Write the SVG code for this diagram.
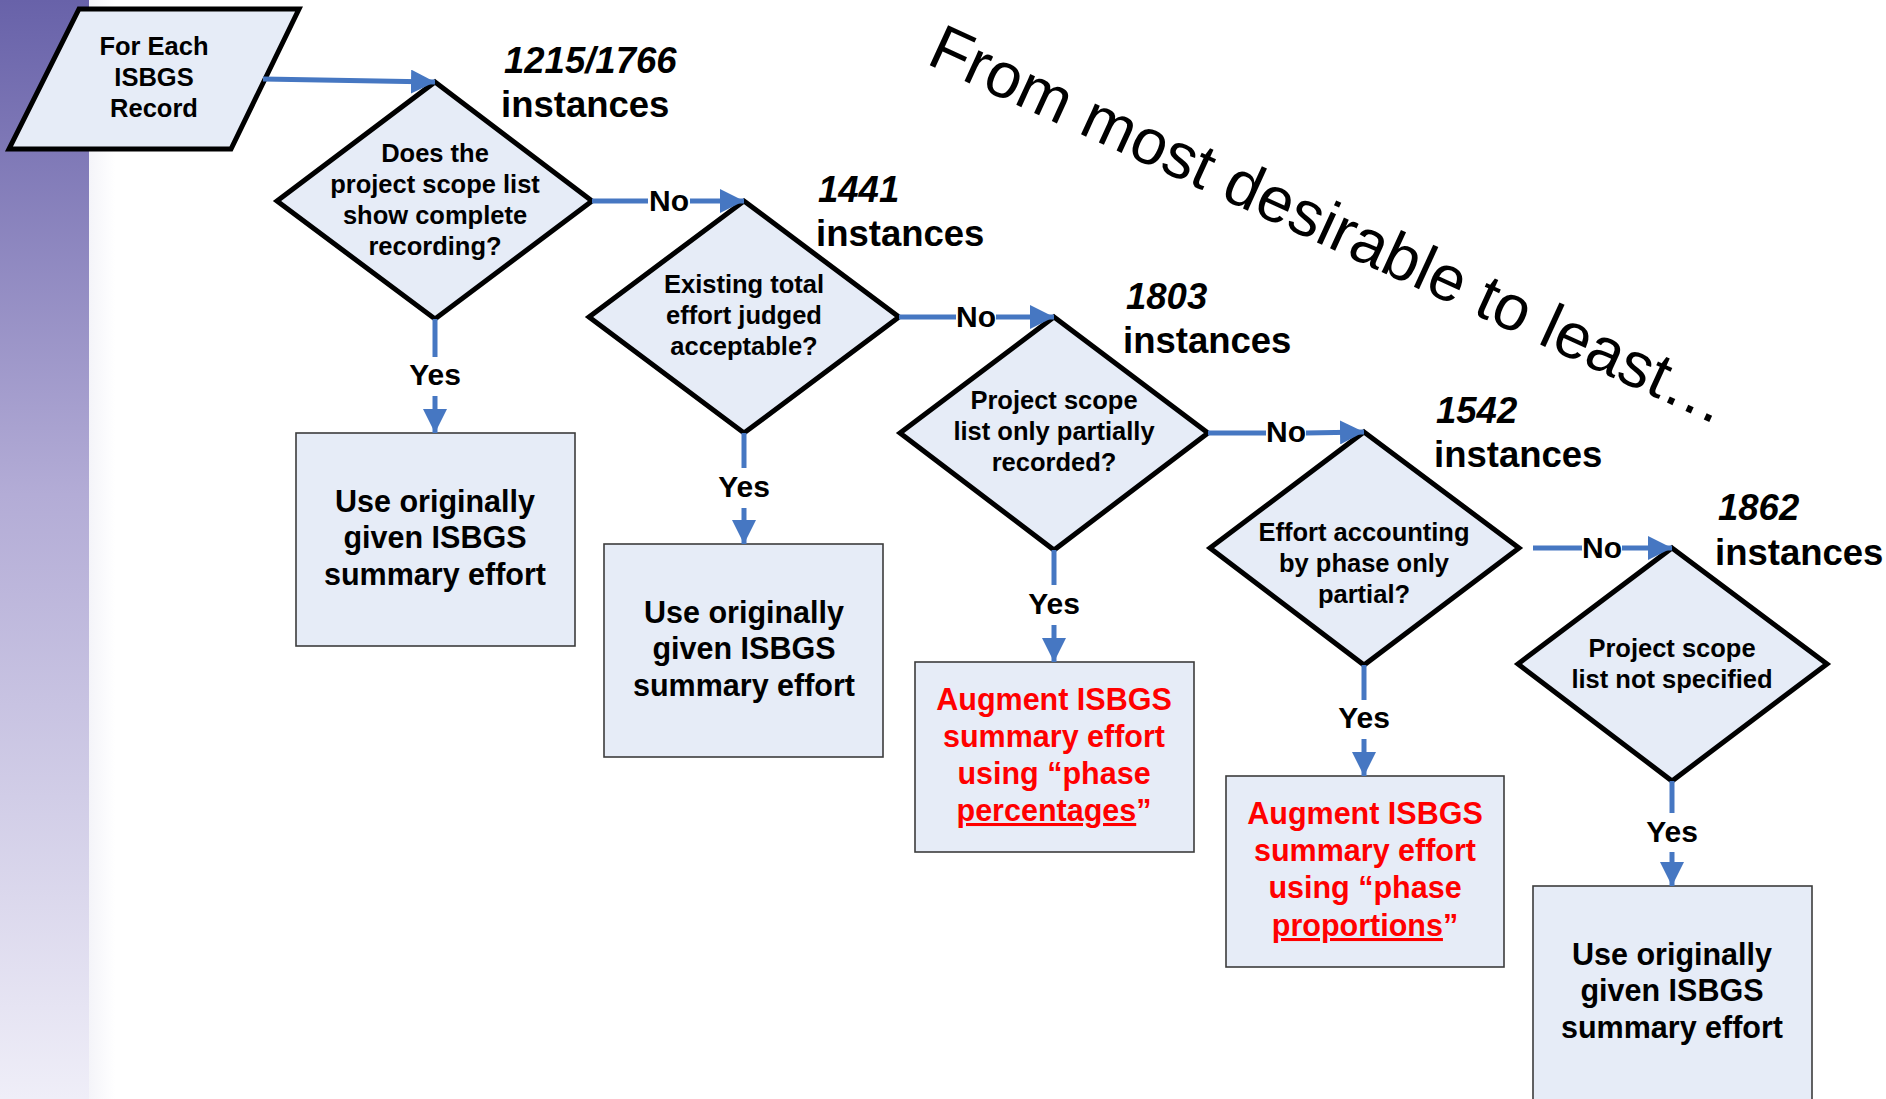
<svg xmlns="http://www.w3.org/2000/svg" width="1886" height="1099" viewBox="0 0 1886 1099">
<defs>
<linearGradient id="bar" x1="0" y1="0" x2="0" y2="1">
<stop offset="0" stop-color="#6862a9"/>
<stop offset="0.45" stop-color="#b3acd6"/>
<stop offset="1" stop-color="#efeef8"/>
</linearGradient>
<linearGradient id="band" x1="0" y1="0" x2="1" y2="0">
<stop offset="0" stop-color="#f4f4f9"/>
<stop offset="1" stop-color="#ffffff"/>
</linearGradient>
<marker id="ah" markerUnits="userSpaceOnUse" markerWidth="24" markerHeight="24" refX="24" refY="12" orient="auto" viewBox="0 0 24 24">
<path d="M0,0 L24,12 L0,24 Z" fill="#4677c2"/>
</marker>
<style>
.sh{fill:#e6ecf7;stroke:#000;stroke-width:5;stroke-linejoin:miter}
.bx{fill:#e6ecf7;stroke:#3c3c3c;stroke-width:1.6}
.t{font-family:"Liberation Sans",Arial,sans-serif;font-weight:bold;text-anchor:middle;fill:#000}
.q{font-size:25.5px}
.b{font-size:30.5px}
.r{fill:#ff0000}
.lb{font-size:30px}
.n{font-family:"Liberation Sans",Arial,sans-serif;font-weight:bold;font-size:36.5px;fill:#000}
.ni{font-style:italic}
.c{stroke:#4677c2;stroke-width:5;fill:none}
.u{text-decoration:underline}
</style>
</defs>
<rect width="1886" height="1099" fill="#ffffff"/>
<rect x="0" y="0" width="89" height="1099" fill="url(#bar)"/>
<rect x="89" y="0" width="26" height="1099" fill="url(#band)"/>

<text x="925" y="63" transform="rotate(24.6 925 63)" font-family="'Liberation Sans',Arial,sans-serif" font-size="64" fill="#000">From most desirable to least…</text>

<g id="start">
<polygon class="sh" points="79,9 299,9 231,149 9,149"/>
<text class="t q" x="154" y="55">For Each</text>
<text class="t q" x="154" y="86">ISBGS</text>
<text class="t q" x="154" y="117">Record</text>
</g>

<g id="d1">
<polygon class="sh" points="435,82 592,201 435,319 277,201"/>
<text class="t q" x="435" y="162">Does the</text>
<text class="t q" x="435" y="193">project scope list</text>
<text class="t q" x="435" y="224">show complete</text>
<text class="t q" x="435" y="255">recording?</text>
</g>
<g id="c1">
<text class="n ni" x="504" y="73">1215/1766</text>
<text class="n" x="501" y="117">instances</text>
</g>

<g id="d2">
<polygon class="sh" points="744,201 899,317 744,433 589,317"/>
<text class="t q" x="744" y="293">Existing total</text>
<text class="t q" x="744" y="324">effort judged</text>
<text class="t q" x="744" y="355">acceptable?</text>
</g>
<g id="c2">
<text class="n ni" x="818" y="202">1441</text>
<text class="n" x="816" y="246">instances</text>
</g>

<g id="d3">
<polygon class="sh" points="1054,317 1208,433 1054,550 900,433"/>
<text class="t q" x="1054" y="409">Project scope</text>
<text class="t q" x="1054" y="440">list only partially</text>
<text class="t q" x="1054" y="471">recorded?</text>
</g>
<g id="c3">
<text class="n ni" x="1126" y="309">1803</text>
<text class="n" x="1123" y="353">instances</text>
</g>

<g id="d4">
<polygon class="sh" points="1364,432 1519,548 1364,665 1210,548"/>
<text class="t q" x="1364" y="541">Effort accounting</text>
<text class="t q" x="1364" y="572">by phase only</text>
<text class="t q" x="1364" y="603">partial?</text>
</g>
<g id="c4">
<text class="n ni" x="1436" y="423">1542</text>
<text class="n" x="1434" y="467">instances</text>
</g>

<g id="d5">
<polygon class="sh" points="1672,548 1827,664 1672,781 1518,664"/>
<text class="t q" x="1672" y="657">Project scope</text>
<text class="t q" x="1672" y="688">list not specified</text>
</g>
<g id="c5">
<text class="n ni" x="1718" y="520">1862</text>
<text class="n" x="1715" y="565">instances</text>
</g>

<g id="b1">
<rect class="bx" x="296" y="433" width="279" height="213"/>
<text class="t b" x="435" y="512">Use originally</text>
<text class="t b" x="435" y="548">given ISBGS</text>
<text class="t b" x="435" y="585">summary effort</text>
</g>
<g id="b2">
<rect class="bx" x="604" y="544" width="279" height="213"/>
<text class="t b" x="744" y="623">Use originally</text>
<text class="t b" x="744" y="659">given ISBGS</text>
<text class="t b" x="744" y="696">summary effort</text>
</g>
<g id="b3">
<rect class="bx" x="915" y="662" width="279" height="190"/>
<text class="t b r" x="1054" y="710">Augment ISBGS</text>
<text class="t b r" x="1054" y="747">summary effort</text>
<text class="t b r" x="1054" y="784">using “phase</text>
<text class="t b r" x="1054" y="821"><tspan class="u">percentages</tspan>”</text>
</g>
<g id="b4">
<rect class="bx" x="1226" y="776" width="278" height="191"/>
<text class="t b r" x="1365" y="824">Augment ISBGS</text>
<text class="t b r" x="1365" y="861">summary effort</text>
<text class="t b r" x="1365" y="898">using “phase</text>
<text class="t b r" x="1365" y="936"><tspan class="u">proportions</tspan>”</text>
</g>
<g id="b5">
<rect class="bx" x="1533" y="886" width="279" height="230"/>
<text class="t b" x="1672" y="965">Use originally</text>
<text class="t b" x="1672" y="1001">given ISBGS</text>
<text class="t b" x="1672" y="1038">summary effort</text>
</g>

<g id="connectors">
<line class="c" x1="263" y1="79" x2="435" y2="82" marker-end="url(#ah)"/>

<line class="c" x1="592" y1="201" x2="648" y2="201"/>
<line class="c" x1="690" y1="201" x2="744" y2="201" marker-end="url(#ah)"/>
<text class="t lb" x="669" y="211">No</text>

<line class="c" x1="899" y1="317" x2="956" y2="317"/>
<line class="c" x1="996" y1="317" x2="1054" y2="317" marker-end="url(#ah)"/>
<text class="t lb" x="976" y="327">No</text>

<line class="c" x1="1208" y1="433" x2="1266" y2="433"/>
<line class="c" x1="1306" y1="433" x2="1364" y2="432" marker-end="url(#ah)"/>
<text class="t lb" x="1286" y="442">No</text>

<line class="c" x1="1533" y1="548" x2="1582" y2="548"/>
<line class="c" x1="1622" y1="548" x2="1672" y2="548" marker-end="url(#ah)"/>
<text class="t lb" x="1602" y="558">No</text>

<line class="c" x1="435" y1="319" x2="435" y2="357"/>
<line class="c" x1="435" y1="396" x2="435" y2="433" marker-end="url(#ah)"/>
<text class="t lb" x="435" y="385">Yes</text>

<line class="c" x1="744" y1="433" x2="744" y2="468"/>
<line class="c" x1="744" y1="508" x2="744" y2="544" marker-end="url(#ah)"/>
<text class="t lb" x="744" y="497">Yes</text>

<line class="c" x1="1054" y1="550" x2="1054" y2="585"/>
<line class="c" x1="1054" y1="625" x2="1054" y2="662" marker-end="url(#ah)"/>
<text class="t lb" x="1054" y="614">Yes</text>

<line class="c" x1="1364" y1="665" x2="1364" y2="700"/>
<line class="c" x1="1364" y1="739" x2="1364" y2="776" marker-end="url(#ah)"/>
<text class="t lb" x="1364" y="728">Yes</text>

<line class="c" x1="1672" y1="781" x2="1672" y2="813"/>
<line class="c" x1="1672" y1="852" x2="1672" y2="886" marker-end="url(#ah)"/>
<text class="t lb" x="1672" y="842">Yes</text>
</g>
</svg>
